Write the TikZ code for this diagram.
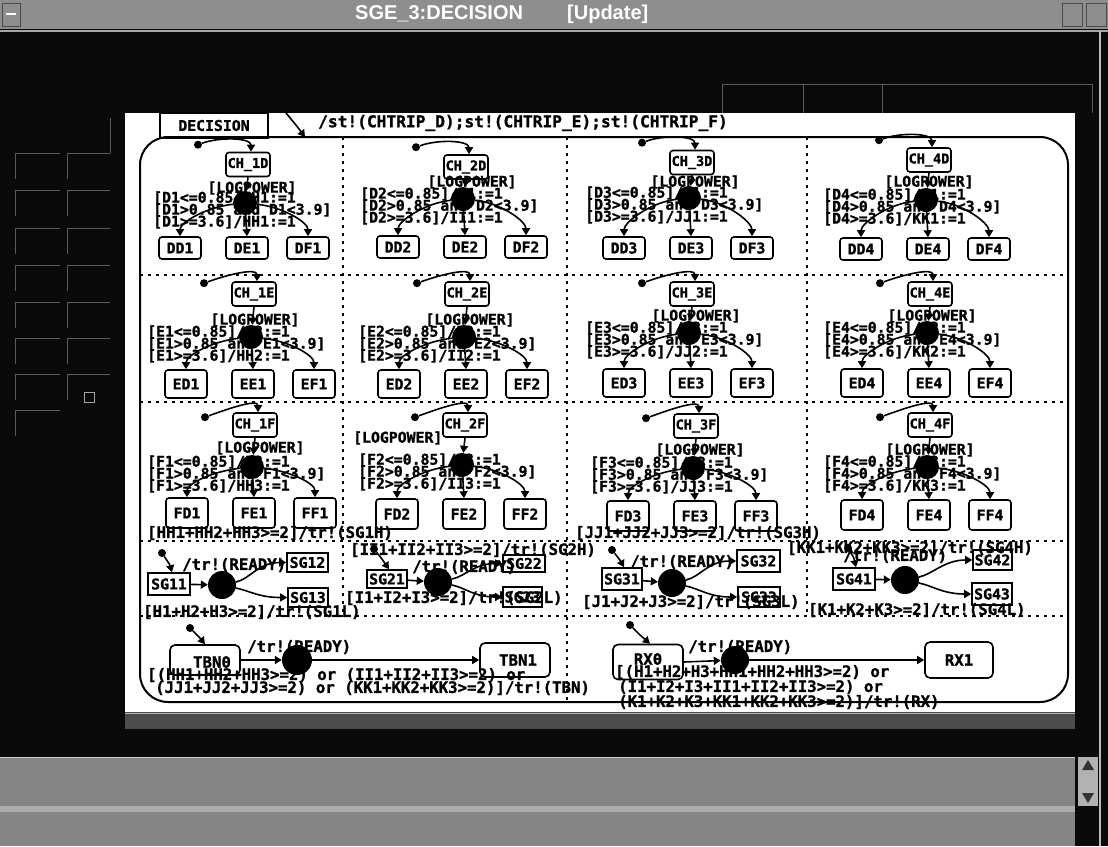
\documentclass[tikz,border=0pt]{standalone}
\usepackage{fontspec}
\newfontfamily\dmono{DejaVu Sans Mono}[BoldFeatures={FakeBold=1.3}]
\newfontfamily\tsans{Liberation Sans}
\usetikzlibrary{arrows.meta,calc}
\newcommand\lbfont{\dmono\bfseries\fontsize{14.8}{12}\selectfont}
\newcommand\trfont{\dmono\bfseries\fontsize{15.7}{12}\selectfont}
\newcommand\chfont{\dmono\bfseries\fontsize{13.5}{12}\selectfont}
\definecolor{wingray}{HTML}{8E8E8E}
\definecolor{panelline}{HTML}{5A5A5A}
\definecolor{botgray}{HTML}{858585}
\def\bh{22}\def\dd{-7}
% #1 row letter, #2 column, #3 action letter, #4 row index, #5 CH x, #6 CH y, #7 junction y, #8 label x, #9 box y
\newcommand\chcell[9]{%
  \node[chbox] (CH#2#1) at (#5,#6) {CH\_#2#1};
  \node[lbl] (La#2#1) at (#8,#7-5) {[#1#2<=0.85]/#3#4:=1};
  \node[lbl] (Lb#2#1) at (#8,#7+7) {[#1#2>0.85 and #1#2<3.9]};
  \node[lbl] (Lc#2#1) at (#8,#7+19) {[#1#2>=3.6]/#3#3#4:=1};
  \node[sbox] (#1D#2) at (#5-68,#9) {#1D#2};
  \node[sbox] (#1E#2) at (#5-1,#9) {#1E#2};
  \node[sbox] (#1F#2) at (#5+60,#9) {#1F#2};
  \node[junc] (J#2#1) at (#5-3,#7) {};
  \node[dflt] (S#2#1) at ($(CH#2#1.north)+(-50,\dd)$) {};
  \draw[arr] (S#2#1) .. controls +(22,-8) and +(0,-14) .. ([xshift=3pt]CH#2#1.north);
  \draw[arr] (CH#2#1.south) -- (J#2#1);
  \draw[arr] (J#2#1) .. controls +(-38,4) and +(0,-14) .. (#1D#2.north);
  \draw[arr] (J#2#1) -- (#1E#2.north);
  \draw[arr] (J#2#1) .. controls +(38,4) and +(0,-14) .. (#1F#2.north);
}
\begin{document}
\begin{tikzpicture}[x=1pt,y=-1pt,
  lbl/.style={font=\lbfont, inner sep=0pt, anchor=west},
  trl/.style={font=\trfont, inner sep=0pt, anchor=west},
  lp/.style={font=\lbfont, inner sep=0pt},
  chbox/.style={draw, line width=1.6pt, rounded corners=3pt, minimum width=44pt, minimum height=24pt, inner sep=0pt, font=\chfont},
  sbox/.style={draw, line width=1.6pt, rounded corners=3pt, minimum width=42pt, minimum height=\bh, inner sep=0pt, font=\lbfont},
  sgbox/.style={draw, line width=1.6pt, inner sep=0pt, font=\lbfont},
  tbox/.style={draw, line width=1.6pt, rounded corners=5pt, inner sep=0pt, font=\trfont},
  junc/.style={circle, fill=black, inner sep=0pt, minimum size=24pt},
  dflt/.style={circle, fill=black, inner sep=0pt, minimum size=8pt},
  arr/.style={-{Triangle[width=8pt,length=7pt]}, line width=1.6pt},
  divider/.style={line width=2.6pt, dash pattern=on 2.6pt off 5.4pt},
  wline/.style={panelline, line width=1pt},
]
\useasboundingbox (0,0) rectangle (1108,846);
% ---------- window chrome ----------
\fill[black!96] (0,0) rectangle (1108,846);
\fill[wingray] (0,0) rectangle (1108,29);
\draw[gray!60!black, line width=1pt] (2,3) rectangle (20,26);
\draw[white, line width=1.5pt] (6,14) -- (16,14);
\draw[gray!60!black, line width=1pt] (1062,3) rectangle (1082,26);
\draw[gray!60!black, line width=1pt] (1086,3) rectangle (1106,26);
\node[font=\tsans\bfseries\fontsize{20}{20}\selectfont, text=white, anchor=west, inner sep=0pt] (title) at (355,14) {SGE\_3:DECISION};
\node[font=\tsans\bfseries\fontsize{20}{20}\selectfont, text=white, anchor=west, inner sep=0pt] (upd) at (567,14) {[Update]};
\draw[gray!70, line width=1.5pt] (0,31) -- (1108,31);
\draw[gray!55, line width=1.2pt] (1100,31) -- (1100,846);
% top-right field outlines
\draw[wline] (722,113) -- (722,84) -- (1092,84) -- (1092,113);
\draw[wline] (803,84) -- (803,113);
\draw[wline] (882,84) -- (882,113);
% left panel grid
\foreach \yy in {153,190,228,265,302,338,374,410} {
  \draw[wline] (15,\yy+26) -- (15,\yy) -- (60,\yy);
}
\foreach \yy in {153,190,228,265,302,338,374} {
  \draw[wline] (67,\yy+26) -- (67,\yy) -- (110,\yy);
}
\draw[wline] (110,153) -- (110,118);
\draw[gray!70, line width=1pt] (84,392) rectangle (94,402);
% canvas
\fill[white] (125,113) rectangle (1075,712);
% bottom scroll bar and status area
\fill[black!70] (125,712) rectangle (1075,729);
\draw[gray!60, line width=1pt] (125,713) -- (1075,713);
\fill[botgray] (0,757) rectangle (1075,846);
\fill[gray!65] (0,806) rectangle (1075,812);
\draw[gray!40, line width=1pt] (0,757) -- (1075,757);
\fill[gray!60] (1078,757) rectangle (1098,806);
\fill[black!80] (1082,770) -- (1094,770) -- (1088,760) -- cycle;
\fill[black!80] (1082,793) -- (1094,793) -- (1088,803) -- cycle;
% ---------- diagram ----------
\node[draw, line width=1.5pt, minimum width=108pt, minimum height=25pt, inner sep=0pt, font=\lbfont] (dec) at (214,125.5) {DECISION};
\node[trl, font=\dmono\bfseries\fontsize{16.2}{12}\selectfont] (toplbl) at (318,123) {/st!(CHTRIP\_D);st!(CHTRIP\_E);st!(CHTRIP\_F)};
\coordinate (tA) at (286,113);
\coordinate (tB) at (305,137);
\draw[arr] (tA) .. controls (296,125) .. (tB);
\draw[line width=2pt, rounded corners=28pt] (140,137) rectangle (1068,702);
% dividers
\draw[divider] (140,275) -- (1068,275);
\draw[divider] (140,402) -- (1068,402);
\draw[divider] (140,541) -- (1068,541);
\draw[divider] (140,616) -- (1068,616);
\draw[divider] (343,137) -- (343,616);
\draw[divider] (567,137) -- (567,702);
\draw[divider] (807,137) -- (807,616);
% LOGPOWER labels
\node[lp] (lp1D) at (252,188) {[LOGPOWER]};
\node[lp] (lp2D) at (472,182) {[LOGPOWER]};
\node[lp] (lp3D) at (695,182) {[LOGPOWER]};
\node[lp] (lp4D) at (929,182) {[LOGPOWER]};
\node[lp] (lp1E) at (255,320) {[LOGPOWER]};
\node[lp] (lp2E) at (470,320) {[LOGPOWER]};
\node[lp] (lp3E) at (696,316) {[LOGPOWER]};
\node[lp] (lp4E) at (932,316) {[LOGPOWER]};
\node[lp] (lp1F) at (260,448) {[LOGPOWER]};
\node[lbl] (lp2F) at (353,438) {[LOGPOWER]};
\node[lp] (lp3F) at (700,450) {[LOGPOWER]};
\node[lp] (lp4F) at (930,450) {[LOGPOWER]};
% cells
\def\bh{22}\def\dd{-7}
\chcell{D}{1}{H}{1}{248}{164.5}{203}{153}{248}
\chcell{D}{2}{I}{1}{466}{167}{199}{360}{247}
\chcell{D}{3}{J}{1}{692}{162.5}{198}{585}{248}
\chcell{D}{4}{K}{1}{929}{160}{200}{823}{249}
\def\bh{28}\def\dd{2}
\chcell{E}{1}{H}{2}{254}{294}{337}{147}{384}
\chcell{E}{2}{I}{2}{467}{294}{337}{358}{384}
\chcell{E}{3}{J}{2}{692}{294}{333}{585}{383}
\chcell{E}{4}{K}{2}{930}{294}{333}{823}{383}
\def\bh{30}\def\dd{5}
\chcell{F}{1}{H}{3}{255}{425}{467}{147}{513}
\chcell{F}{2}{I}{3}{465}{425}{465}{358}{514}
\chcell{F}{3}{J}{3}{696}{426}{468}{590}{516}
\chcell{F}{4}{K}{3}{930}{425}{467}{823}{515}
% high-level transition labels
\node[trl] (hh) at (147,533) {[HH1+HH2+HH3>=2]/tr!(SG1H)};
\node[trl] (jj) at (575,533) {[JJ1+JJ2+JJ3>=2]/tr!(SG3H)};
\node[trl] (ii) at (350,550) {[II1+II2+II3>=2]/tr!(SG2H)};
\node[trl] (kk) at (787,548) {[KK1+KK2+KK3>=2]/tr!(SG4H)};
% SG block 1
\node[trl] (r1) at (182,565) {/tr!(READY)};
\node[trl] (l1) at (143,612) {[H1+H2+H3>=2]/tr!(SG1L)};
\node[dflt] (S41) at (162,553) {};
\node[sgbox, minimum width=42pt, minimum height=22pt] (SG11) at (169,584) {SG11};
\node[sgbox, minimum width=41pt, minimum height=19pt] (SG12) at (307.5,562.5) {SG12};
\node[sgbox, minimum width=40pt, minimum height=19pt] (SG13) at (308,597.5) {SG13};
\node[junc, minimum size=28pt] (J41) at (222,585) {};
\draw[arr] (S41) .. controls +(8,12) .. ([xshift=3pt]SG11.north);
\draw[arr] (SG11) -- (J41);
\draw[arr] (J41) .. controls +(28,-6) and +(-28,0) .. (SG12.west);
\draw[arr] (J41) .. controls +(28,6) and +(-28,0) .. (SG13.west);
% SG block 2
\node[trl] (r2) at (412,567) {/tr!(READY)};
\node[trl] (l2) at (345,598) {[I1+I2+I3>=2]/tr!(SG2L)};
\node[dflt] (S42) at (374,549) {};
\node[sgbox, minimum width=40pt, minimum height=18pt] (SG21) at (387,579) {SG21};
\node[sgbox, minimum width=42pt, minimum height=17pt] (SG22) at (524,563.5) {SG22};
\node[sgbox, minimum width=39pt, minimum height=20pt] (SG23) at (522.5,597) {SG23};
\node[junc, minimum size=28pt] (J42) at (438,582) {};
\draw[arr] (S42) .. controls +(8,10) .. ([xshift=2pt]SG21.north);
\draw[arr] (SG21) -- (J42);
\draw[arr] (J42) .. controls +(28,-6) and +(-28,0) .. (SG22.west);
\draw[arr] (J42) .. controls +(28,6) and +(-28,0) .. (SG23.west);
% SG block 3
\node[trl] (r3) at (630,562) {/tr!(READY)};
\node[trl] (l3) at (582,602) {[J1+J2+J3>=2]/tr!(SG3L)};
\node[dflt] (S43) at (612,550) {};
\node[sgbox, minimum width=40pt, minimum height=22pt] (SG31) at (622,579) {SG31};
\node[sgbox, minimum width=43pt, minimum height=22pt] (SG32) at (758.5,561) {SG32};
\node[sgbox, minimum width=42pt, minimum height=20pt] (SG33) at (759,597) {SG33};
\node[junc, minimum size=28pt] (J43) at (672,583) {};
\draw[arr] (S43) .. controls +(8,10) .. ([xshift=2pt]SG31.north);
\draw[arr] (SG31) -- (J43);
\draw[arr] (J43) .. controls +(28,-6) and +(-28,0) .. (SG32.west);
\draw[arr] (J43) .. controls +(28,6) and +(-28,0) .. (SG33.west);
% SG block 4
\node[trl] (r4) at (843,556) {/tr!(READY)};
\node[trl] (l4) at (808,610) {[K1+K2+K3>=2]/tr!(SG4L)};
\node[dflt] (S44) at (848,548) {};
\node[sgbox, minimum width=42pt, minimum height=22pt] (SG41) at (854,579) {SG41};
\node[sgbox, minimum width=39pt, minimum height=20pt] (SG42) at (992.5,560) {SG42};
\node[sgbox, minimum width=40pt, minimum height=22pt] (SG43) at (992,594) {SG43};
\node[junc, minimum size=28pt] (J44) at (905,580) {};
\draw[arr] (S44) .. controls +(6,10) .. ([xshift=2pt]SG41.north);
\draw[arr] (SG41) -- (J44);
\draw[arr] (J44) .. controls +(28,-6) and +(-28,0) .. (SG42.west);
\draw[arr] (J44) .. controls +(28,6) and +(-28,0) .. (SG43.west);
% bottom row: TBN
\node[trl] (rt) at (247,647) {/tr!(READY)};
\node[tbox, minimum width=70pt, minimum height=30pt] (TBN0) at (205,660) {};
\node[font=\trfont, inner sep=0pt] (tbn0t) at (212,662) {TBN0};
\node[tbox, minimum width=70pt, minimum height=34pt] (TBN1) at (515,660) {};
\node[font=\trfont, inner sep=0pt] (tbn1t) at (518,660) {TBN1};
\node[trl] (tc1) at (147,675) {[(HH1+HH2+HH3>=2) or (II1+II2+II3>=2) or};
\node[trl] (tc2) at (155,688) {(JJ1+JJ2+JJ3>=2) or (KK1+KK2+KK3>=2)]/tr!(TBN)};
\node[dflt] (S51) at (190,628) {};
\node[junc, minimum size=30pt] (J51) at (297,660) {};
\draw[arr] (S51) .. controls +(10,10) .. ([xshift=0pt]TBN0.north);
\draw[arr] (TBN0.east) -- (J51);
\draw[arr] (J51) -- (TBN1.west);
% bottom row: RX
\node[trl] (rr) at (688,647) {/tr!(READY)};
\node[tbox, minimum width=70pt, minimum height=35pt] (RX0) at (648,662) {};
\node[font=\trfont, inner sep=0pt] (rx0t) at (648,659) {RX0};
\node[tbox, minimum width=68pt, minimum height=36pt] (RX1) at (959,660) {RX1};
\node[trl] (rc1) at (615,672) {[(H1+H2+H3+HH1+HH2+HH3>=2) or};
\node[trl] (rc2) at (618,687) {(I1+I2+I3+II1+II2+II3>=2) or};
\node[trl] (rc3) at (618,702) {(K1+K2+K3+KK1+KK2+KK3>=2)]/tr!(RX)};
\node[dflt] (S52) at (630,625) {};
\node[junc, minimum size=28pt] (J52) at (735,660) {};
\draw[arr] (S52) .. controls +(10,10) .. ([xshift=2pt]RX0.north);
\draw[arr] (RX0.east) -- (J52);
\draw[arr] (J52) -- (RX1.west);
\end{tikzpicture}
\end{document}
